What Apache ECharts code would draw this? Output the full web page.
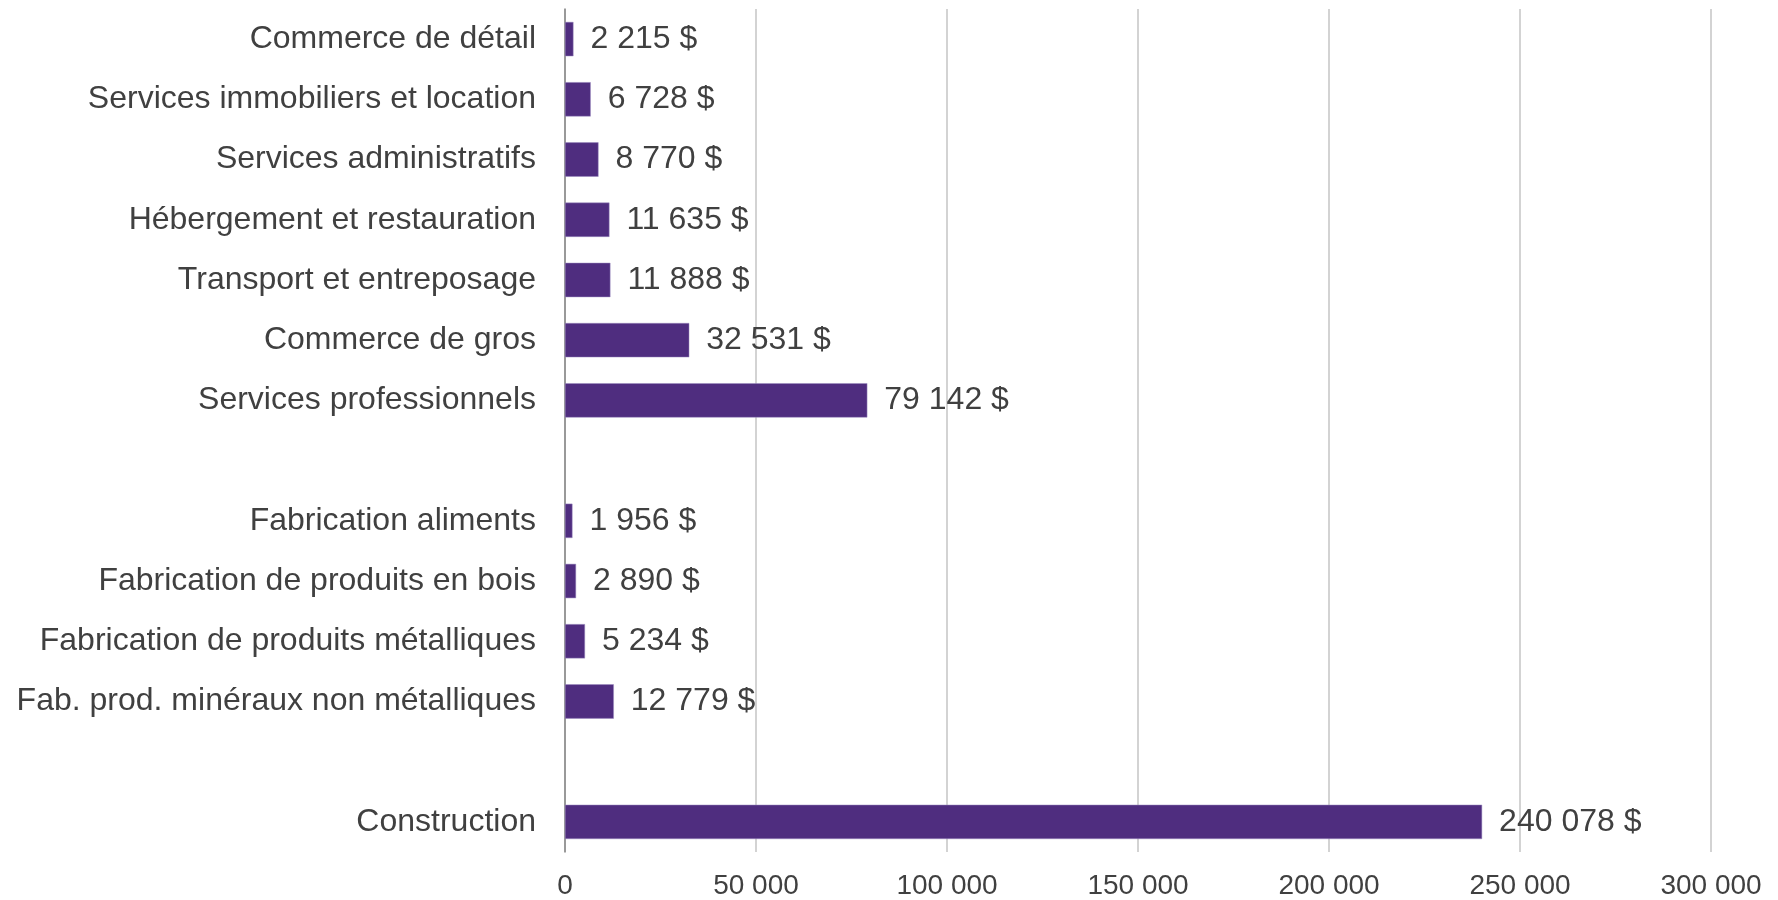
<!DOCTYPE html>
<html>
<head>
<meta charset="utf-8">
<script src="https://cdn.jsdelivr.net/npm/echarts@6/dist/echarts.min.js"></script>
<style>
  html, body { margin: 0; padding: 0; background: #fff; }
  #main { width: 1778px; height: 900px; }
</style>
</head>
<body>
<div id="main"></div>
<script>
// categories top to bottom, '' = empty spacer rows
var categories = [
  "Commerce de détail",
  "Services immobiliers et location",
  "Services administratifs",
  "Hébergement et restauration",
  "Transport et entreposage",
  "Commerce de gros",
  "Services professionnels",
  "",
  "Fabrication aliments",
  "Fabrication de produits en bois",
  "Fabrication de produits métalliques",
  "Fab. prod. minéraux non métalliques",
  " ",
  "Construction"
];
var values = [2215, 6728, 8770, 11635, 11888, 32531, 79142, null, 1956, 2890, 5234, 12779, null, 240078];
var tickValues = [0, 50000, 100000, 150000, 200000, 250000, 300000];

function fmt(n) {
  return String(Math.round(n)).replace(/\B(?=(\d{3})+(?!\d))/g, " ");
}

var chartDom = document.getElementById("main");
var myChart = echarts.init(chartDom);
var option = {
  backgroundColor: "#ffffff",
  animation: false,
  textStyle: { fontFamily: "Liberation Sans, Arial, sans-serif" },
  grid: { left: 565, right: 67, top: 9, bottom: 47, containLabel: false },
  xAxis: {
    type: "value",
    min: tickValues[0],
    max: tickValues[tickValues.length - 1],
    interval: tickValues[1] - tickValues[0],
    axisLine: { show: false },
    axisTick: { show: false },
    splitLine: { lineStyle: { color: "#c4c4c4", width: 1.5 } },
    axisLabel: {
      color: "#404040",
      fontSize: 28,
      margin: 20,
      formatter: function (v) { return fmt(v); }
    }
  },
  yAxis: {
    type: "category",
    inverse: true,
    data: categories,
    axisLine: { show: true, lineStyle: { color: "#868686", width: 1.5 } },
    axisTick: { show: false },
    axisLabel: { color: "#404040", fontSize: 32, margin: 29 }
  },
  series: [
    {
      type: "bar",
      data: values,
      barCategoryGap: "43%",
      itemStyle: { color: "#4f2d7f", borderColor: "#9c8cc0", borderWidth: 0.5 },
      label: {
        show: true,
        position: "right",
        distance: 17,
        color: "#404040",
        fontSize: 32,
        formatter: function (p) { return p.value == null ? "" : fmt(p.value) + " $"; }
      }
    }
  ]
};
myChart.setOption(option);
</script>
</body>
</html>
